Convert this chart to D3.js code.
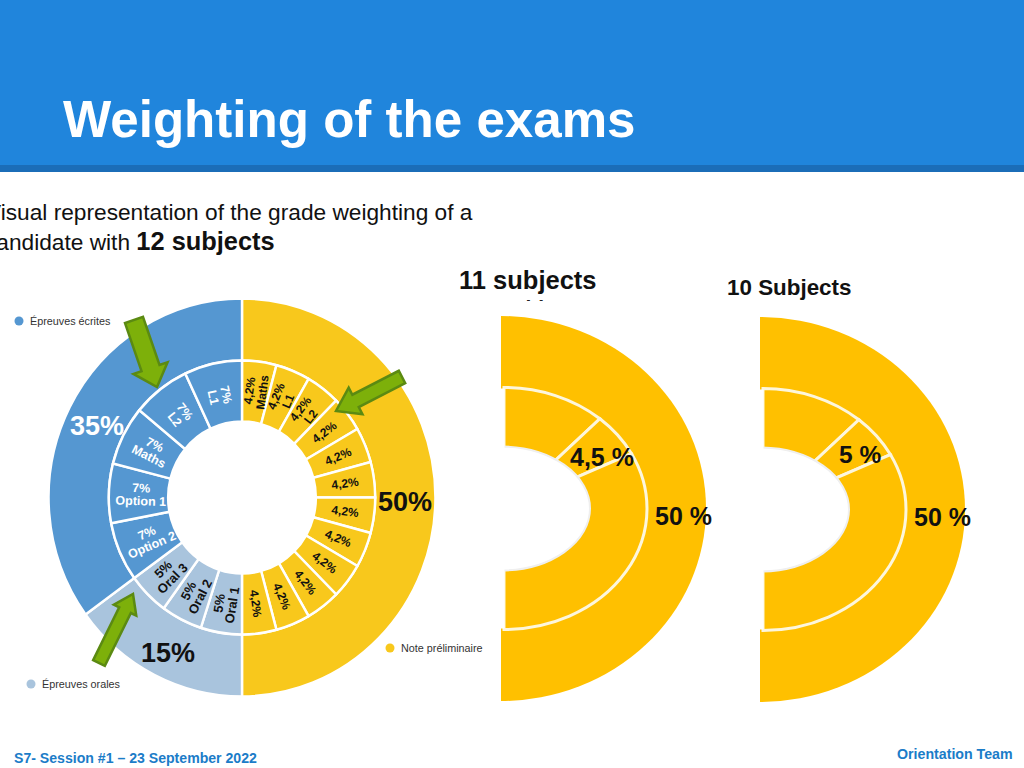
<!DOCTYPE html>
<html>
<head>
<meta charset="utf-8">
<script src="https://cdn.jsdelivr.net/npm/d3@7"></script>
<style>
	html, body { margin: 0; padding: 0; background: #fff; overflow: hidden; }
	svg { display: block; }
	text { font-family: "Liberation Sans", Arial, sans-serif; }
</style>
</head>
<body>
<svg id="chart" width="1024" height="768"></svg>
<script>
// 12 subjects donut
const outerNames = ["Note préliminaire", "Épreuves orales", "Épreuves écrites"];
const outerValues = [50, 15, 35];
const outerLabels = ["50%", "15%", "35%"];
const innerValues = [4.1667, 4.1667, 4.1667, 4.1667, 4.1667, 4.1667, 4.1667, 4.1667, 4.1667, 4.1667, 4.1667, 4.1667, 5, 5, 5, 7, 7, 7, 7, 7];
const innerPercents = ["4,2%", "4,2%", "4,2%", "4,2%", "4,2%", "4,2%", "4,2%", "4,2%", "4,2%", "4,2%", "4,2%", "4,2%", "5%", "5%", "5%", "7%", "7%", "7%", "7%", "7%"];
const innerSubjects = ["Maths", "L1", "L2", "", "", "", "", "", "", "", "", "", "Oral 1", "Oral 2", "Oral 3", "Option 2", "Option 1", "Maths", "L2", "L1"];
const innerGroups = [0, 0, 0, 0, 0, 0, 0, 0, 0, 0, 0, 0, 1, 1, 1, 2, 2, 2, 2, 2];

// the two half donuts, share of a full circle for each inner slice
const halfOuter = [50];
const halfInner = [11.7, 5.8, 32.5];

const groupColor = d3.scaleOrdinal().domain([0, 1, 2]).range(["#f8c81c", "#a9c4dd", "#5597d1"]);
const halfColor = "#ffc000";

const svg = d3.select("#chart");
const pie = d3.pie().value(d => d).sort(null);

// header band
svg.append("rect").attr("width", 1024).attr("height", 166).attr("fill", "#2085dc");
svg.append("rect").attr("y", 165).attr("width", 1024).attr("height", 7).attr("fill", "#1b6db8");
svg.append("text").attr("x", 63).attr("y", 137)
	.attr("font-size", 51.1).attr("font-weight", "bold").attr("fill", "#fff")
	.text("Weighting of the exams");

// intro text, runs off the left edge like the slide does
svg.append("text").attr("x", -14).attr("y", 220).attr("font-size", 22.7).attr("fill", "#111")
	.text("Visual representation of the grade weighting of a");
const intro2 = svg.append("text").attr("x", -15).attr("y", 250).attr("font-size", 22.7).attr("fill", "#111");
intro2.append("tspan").text("candidate with ");
intro2.append("tspan").attr("font-size", 25.4).attr("font-weight", "bold").text("12 subjects");

// main donut, slightly squeezed horizontally
const mainG = svg.append("g").attr("transform", "translate(242,497.5) scale(0.972,1)");
const outerArc = d3.arc().innerRadius(137).outerRadius(199);
const innerArc = d3.arc().innerRadius(76).outerRadius(137);

mainG.selectAll(".outer")
	.data(pie(outerValues))
	.join("path")
		.attr("class", "outer")
		.attr("d", outerArc)
		.attr("fill", (d, i) => groupColor(i))
		.attr("stroke", "#fff")
		.attr("stroke-width", 2.5);

mainG.selectAll(".inner")
	.data(pie(innerValues))
	.join("path")
		.attr("class", "inner")
		.attr("d", innerArc)
		.attr("fill", (d, i) => groupColor(innerGroups[i]))
		.attr("stroke", "#fff")
		.attr("stroke-width", 2.5);

// inner slice labels follow the slice angle
pie(innerValues).forEach(function(d, i) {
	const r = innerGroups[i] === 2 ? 104 : (innerGroups[i] === 1 ? 108 : 107);
	const c = d3.arc().innerRadius(r).outerRadius(r).centroid(d);
	const deg = (d.startAngle + d.endAngle) / 2 * 180 / Math.PI;
	const rot = deg < 180 ? deg - 90 : deg - 270;
	const isBlue = innerGroups[i] === 2;
	const size = innerGroups[i] === 0 ? 12 : (isBlue ? 12.5 : 13);
	const t = svg.append("text")
		.attr("transform", "translate(" + (242 + c[0] * 0.972) + "," + (497.5 + c[1]) + ") rotate(" + rot + ")")
		.attr("text-anchor", "middle")
		.attr("font-size", size)
		.attr("font-weight", "bold")
		.attr("fill", isBlue ? "#fff" : "#111");
	if (innerSubjects[i]) {
		t.append("tspan").attr("x", 0).attr("y", -2).text(innerPercents[i]);
		t.append("tspan").attr("x", 0).attr("y", 11).text(innerSubjects[i]);
	} else {
		t.append("tspan").attr("x", 0).attr("y", 4).text(innerPercents[i]);
	}
});

// big ring labels
svg.append("text").attr("x", 405).attr("y", 511).attr("text-anchor", "middle").attr("font-size", 27).attr("font-weight", "bold").attr("fill", "#111").text(outerLabels[0]);
svg.append("text").attr("x", 168).attr("y", 662).attr("text-anchor", "middle").attr("font-size", 27).attr("font-weight", "bold").attr("fill", "#111").text(outerLabels[1]);
svg.append("text").attr("x", 97).attr("y", 435).attr("text-anchor", "middle").attr("font-size", 27).attr("font-weight", "bold").attr("fill", "#fff").text(outerLabels[2]);

// legend dots
function legend(cx, cy, idx) {
	svg.append("circle").attr("cx", cx).attr("cy", cy).attr("r", 4.5).attr("fill", groupColor(idx));
	svg.append("text").attr("x", cx + 11).attr("y", cy + 4).attr("font-size", 10.8).attr("fill", "#333").text(outerNames[idx]);
}
legend(19, 321, 2);
legend(31, 684, 1);
legend(390, 648, 0);

// green arrows on top of the donut
function arrow(x0, y0, x1, y1, shaft, head, headLen) {
	const a = Math.atan2(y1 - y0, x1 - x0) * 180 / Math.PI;
	const len = Math.hypot(x1 - x0, y1 - y0);
	const s = shaft / 2, h = head / 2;
	const pts = [[0, -s], [len - headLen, -s], [len - headLen, -h], [len, 0], [len - headLen, h], [len - headLen, s], [0, s]];
	svg.append("polygon")
		.attr("transform", "translate(" + x0 + "," + y0 + ") rotate(" + a + ")")
		.attr("points", pts.map(p => p.join(",")).join(" "))
		.attr("fill", "#7db00a")
		.attr("stroke", "#5b8a12")
		.attr("stroke-width", 2.5);
}
arrow(134, 320, 157, 387, 19, 36, 20);
arrow(402, 377, 336, 411, 14, 30, 22);
arrow(99, 663, 133, 594, 13, 25, 18);

// half donut panels
function halfDonut(cx, cy) {
	const g = svg.append("g").attr("transform", "translate(" + cx + "," + cy + ")");
	const halfPie = d3.pie().value(d => d).sort(null).startAngle(0).endAngle(Math.PI);

	g.append("g").attr("transform", "scale(" + (205 / 192.5) + ",1)")
		.selectAll("path")
		.data(halfPie(halfOuter))
		.join("path")
			.attr("d", d3.arc().innerRadius(0).outerRadius(192.5))
			.attr("fill", halfColor);

	g.append("g").attr("transform", "translate(3,0) scale(" + (143 / 121) + ",1)")
		.selectAll("path")
		.data(halfPie(halfInner))
		.join("path")
			.attr("d", d3.arc().innerRadius(0).outerRadius(121))
			.attr("fill", halfColor)
			.attr("stroke", "#fdf6dc")
			.attr("stroke-width", 3)
			.attr("vector-effect", "non-scaling-stroke");

	// hole, with a faint edge like the cropped slide image
	g.append("g").attr("transform", "scale(" + (89 / 62) + ",1)")
		.selectAll("path")
		.data(halfPie(halfOuter))
		.join("path")
			.attr("d", d3.arc().innerRadius(0).outerRadius(62))
			.attr("fill", "#fff")
			.attr("stroke", "#efefef")
			.attr("stroke-width", 2)
			.attr("vector-effect", "non-scaling-stroke");

	// white sliver where the inner ring was cropped
	g.append("rect").attr("x", -2).attr("y", -120).attr("width", 5.5).attr("height", 240).attr("fill", "#fff");
}

// clipped leftover of a text box above the first panel
svg.append("text").attr("x", 473).attr("y", 315).attr("font-size", 21).attr("font-weight", "bold").attr("fill", "#222").text("11 subjects");
svg.append("rect").attr("x", 460).attr("y", 301).attr("width", 140).attr("height", 20).attr("fill", "#fff");

halfDonut(501, 508.5);
halfDonut(760, 509.5);

function note(x, y, size, s) {
	svg.append("text").attr("x", x).attr("y", y).attr("font-size", size).attr("font-weight", "bold").attr("fill", "#111").text(s);
}
note(459, 289, 25.5, "11 subjects");
note(727, 295, 22.4, "10 Subjects");
note(570, 466, 25, "4,5 %");
note(655, 525, 25, "50 %");
note(839, 463, 24.5, "5 %");
note(914, 526, 25, "50 %");

// footer
svg.append("text").attr("x", 14).attr("y", 763).attr("font-size", 14.1).attr("font-weight", "bold").attr("fill", "#1b7cc8")
	.text("S7- Session #1 – 23 September 2022");
svg.append("text").attr("x", 897).attr("y", 759).attr("font-size", 14.2).attr("font-weight", "bold").attr("fill", "#1b7cc8")
	.text("Orientation Team");
</script>
</body>
</html>
